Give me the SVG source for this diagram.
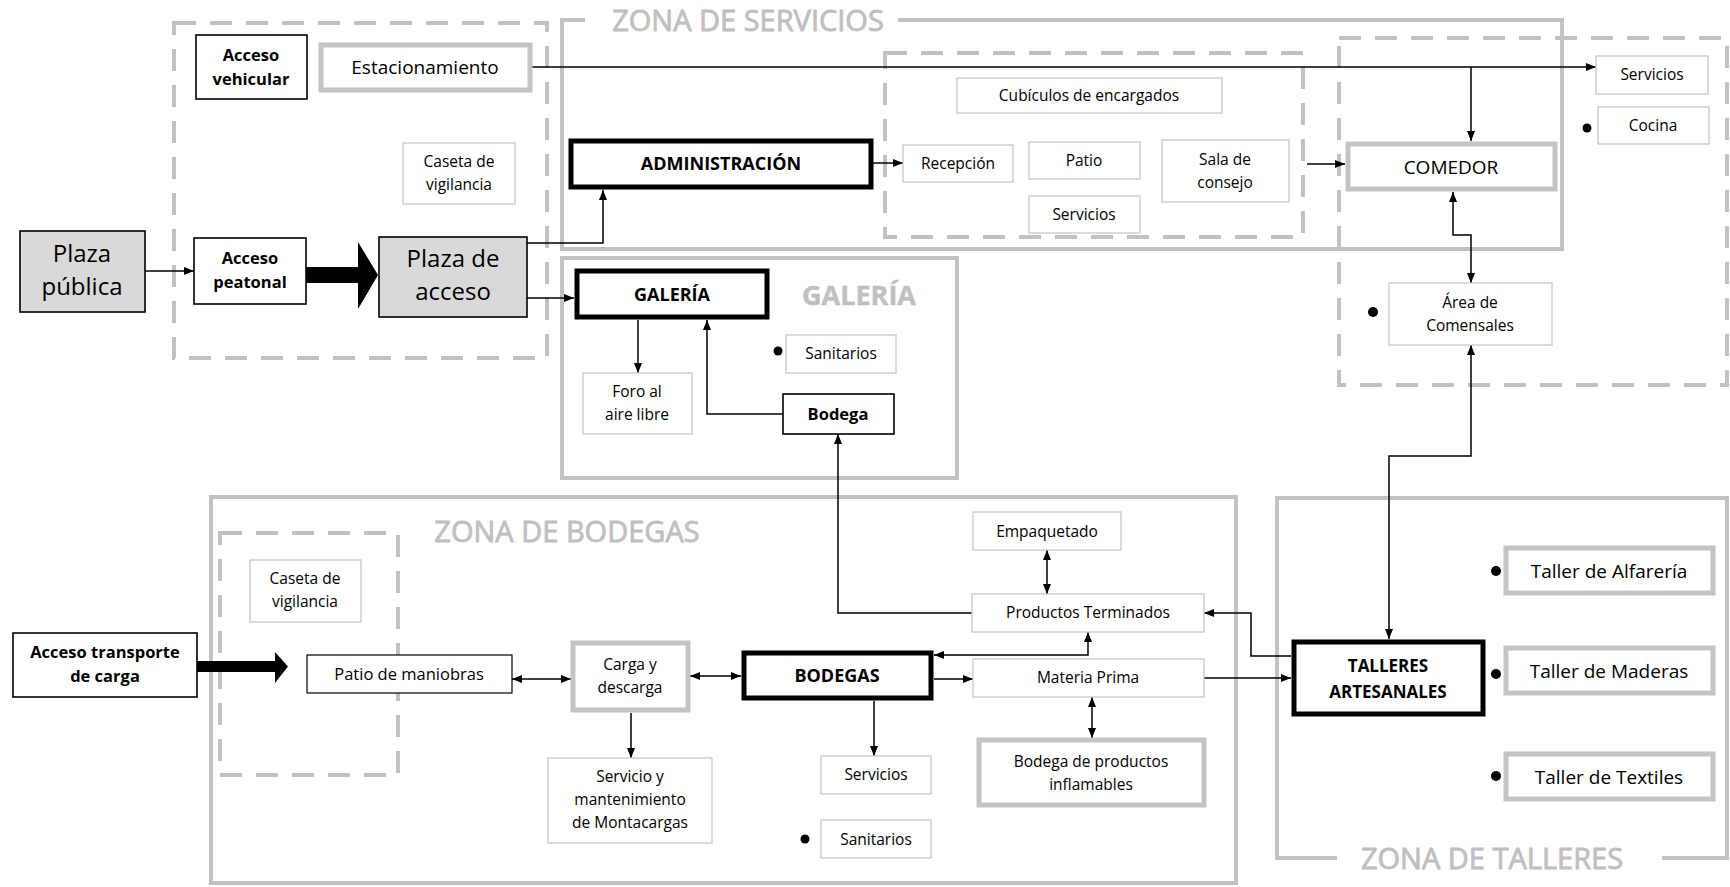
<svg xmlns="http://www.w3.org/2000/svg" width="1730" height="887" viewBox="0 0 1730 887">
<defs>
<marker id="ah" viewBox="0 0 10 10" refX="10" refY="5" markerWidth="10" markerHeight="10" markerUnits="userSpaceOnUse" orient="auto-start-reverse">
<path d="M0,1 L10,5 L0,9 Z" fill="#000"/>
</marker>
<style>
text{font-family:"Open Sans","Liberation Sans",sans-serif;text-anchor:middle;fill:#000}
.thin{fill:#fff;stroke:#c8c8c8;stroke-width:1.3}
.blk{fill:#fff;stroke:#000;stroke-width:1.6}
.thick{fill:#fff;stroke:#000;stroke-width:5}
.gray{fill:#fff;stroke:#c4c4c4;stroke-width:5}
.plaza{fill:#d9d9d9;stroke:#000;stroke-width:1.6}
.zone{fill:none;stroke:#c2c2c2;stroke-width:4}
.dash{fill:none;stroke:#c2c2c2;stroke-width:4;stroke-dasharray:22 14}
.con{fill:none;stroke:#000;stroke-width:1.5}
.arr{marker-end:url(#ah)}
.arr2{marker-start:url(#ah);marker-end:url(#ah)}
.t{font-size:15.5px}
.tb{font-size:16.5px;font-weight:bold}
.tn{font-size:19px}
.tbig{font-size:24px}
.ttl{font-size:29px;fill:#c0c0c0;stroke:#c0c0c0;stroke-width:0.8}
.dot{fill:#000}
</style>
</defs>

<g id="zones">
<rect class="dash" x="174" y="23" width="373" height="335"/>
<path class="zone" d="M585 20 H562 V249 H1562 V20 H898"/>
<text class="ttl" x="748" y="31">ZONA DE SERVICIOS</text>
<rect class="dash" x="885" y="53" width="418" height="184"/>
<rect class="dash" x="1339" y="38" width="388" height="347"/>
<rect class="zone" x="562" y="258" width="395" height="220"/>
<text class="ttl" x="859" y="305" style="font-weight:bold;font-size:27px;stroke-width:0.4">GALERÍA</text>
<rect class="zone" x="211" y="497" width="1025" height="386"/>
<text class="ttl" x="567" y="542">ZONA DE BODEGAS</text>
<rect class="dash" x="220" y="533" width="178" height="242"/>
<path class="zone" d="M1337 858 H1277 V498 H1727 V858 H1662"/>
<text class="ttl" x="1492" y="869">ZONA DE TALLERES</text>
</g>

<g id="connectors">
<path class="con arr" d="M145 271 H194"/>
<polygon points="306,267 358,267 358,242 378,275 358,309 358,283 306,283" fill="#000"/>
<path class="con arr" d="M527 243 H603 V190"/>
<path class="con arr" d="M527 298 H574"/>
<path class="con arr" d="M530 67 H1596"/>
<path class="con arr" d="M1471 67 V141"/>
<path class="con arr" d="M873 163 H903"/>
<path class="con arr" d="M1307 164 H1345"/>
<path class="con arr2" d="M1453 192 V235 H1471 V283"/>
<path class="con arr2" d="M1389 639 V456 H1471 V345"/>
<path class="con arr" d="M638 320 V373"/>
<path class="con arr" d="M783 414 H707 V320"/>
<path class="con arr" d="M972 613 H838 V434"/>
<path class="con arr2" d="M1047 550 V594"/>
<polygon points="197,661 275,661 275,652 288,666.5 275,683 275,672 197,672" fill="#000"/>
<path class="con arr2" d="M512 679 H571"/>
<path class="con arr2" d="M690 676 H741"/>
<path class="con arr" d="M934 679 H973"/>
<path class="con arr2" d="M934 655 H1088 V632"/>
<path class="con arr2" d="M1092 697 V738"/>
<path class="con arr" d="M631 713 V758"/>
<path class="con arr" d="M874 701 V756"/>
<path class="con arr" d="M1291 656 H1251 V613 H1204"/>
<path class="con arr" d="M1204 678 H1291"/>
</g>

<g id="plaza-publica"><rect class="plaza" x="20" y="231" width="125" height="81"/><text class="tbig" x="82" y="262">Plaza</text><text class="tbig" x="82" y="295">pública</text></g>
<g id="acceso-vehicular"><rect class="blk" x="196" y="35" width="111" height="64"/><text class="tb" x="251" y="61">Acceso</text><text class="tb" x="251" y="85">vehicular</text></g>
<g id="estacionamiento"><rect class="gray" x="321" y="45" width="209" height="45"/><text class="tn" x="425" y="74">Estacionamiento</text></g>
<g id="caseta-1"><rect class="thin" x="403" y="143" width="112" height="61"/><text class="t" x="459" y="167">Caseta de</text><text class="t" x="459" y="190">vigilancia</text></g>
<g id="acceso-peatonal"><rect class="blk" x="194" y="238" width="112" height="66"/><text class="tb" x="250" y="264">Acceso</text><text class="tb" x="250" y="288">peatonal</text></g>
<g id="plaza-acceso"><rect class="plaza" x="379" y="237" width="148" height="80"/><text class="tbig" x="453" y="267">Plaza de</text><text class="tbig" x="453" y="300">acceso</text></g>

<g id="administracion"><rect class="thick" x="571" y="141" width="300" height="46"/><text class="tb" x="721" y="170" style="font-size:18px">ADMINISTRACIÓN</text></g>
<g id="cubiculos"><rect class="thin" x="957" y="78" width="265" height="35"/><text class="t" x="1089" y="101">Cubículos de encargados</text></g>
<g id="recepcion"><rect class="thin" x="903" y="145" width="110" height="37"/><text class="t" x="958" y="169">Recepción</text></g>
<g id="patio"><rect class="thin" x="1029" y="142" width="111" height="37"/><text class="t" x="1084" y="166">Patio</text></g>
<g id="servicios-adm"><rect class="thin" x="1029" y="196" width="111" height="37"/><text class="t" x="1084" y="220">Servicios</text></g>
<g id="sala-consejo"><rect class="thin" x="1162" y="140" width="127" height="62"/><text class="t" x="1225" y="165">Sala de</text><text class="t" x="1225" y="188">consejo</text></g>

<g id="comedor"><rect class="gray" x="1348" y="144" width="207" height="45"/><text class="tn" x="1451" y="174">COMEDOR</text></g>
<g id="servicios-com"><rect class="thin" x="1596" y="56" width="112" height="38"/><text class="t" x="1652" y="80">Servicios</text></g>
<g id="cocina"><circle class="dot" cx="1587" cy="128" r="4.5"/><rect class="thin" x="1598" y="107" width="111" height="37"/><text class="t" x="1653" y="131">Cocina</text></g>
<g id="comensales"><circle class="dot" cx="1373" cy="312" r="5"/><rect class="thin" x="1389" y="283" width="163" height="62"/><text class="t" x="1470" y="308">Área de</text><text class="t" x="1470" y="331">Comensales</text></g>

<g id="galeria"><rect class="thick" x="577" y="271" width="190" height="46"/><text class="tb" x="672" y="301" style="font-size:18px">GALERÍA</text></g>
<g id="foro"><rect class="thin" x="583" y="373" width="109" height="61"/><text class="t" x="637" y="397">Foro al</text><text class="t" x="637" y="420">aire libre</text></g>
<g id="sanitarios-gal"><circle class="dot" cx="778" cy="351" r="4.5"/><rect class="thin" x="786" y="335" width="110" height="38"/><text class="t" x="841" y="359">Sanitarios</text></g>
<g id="bodega"><rect class="blk" x="783" y="394" width="111" height="40"/><text class="tb" x="838" y="420">Bodega</text></g>

<g id="acceso-carga"><rect class="blk" x="13" y="633" width="184" height="64"/><text class="tb" x="105" y="658">Acceso transporte</text><text class="tb" x="105" y="682">de carga</text></g>
<g id="caseta-2"><rect class="thin" x="250" y="560" width="111" height="62"/><text class="t" x="305" y="584">Caseta de</text><text class="t" x="305" y="607">vigilancia</text></g>
<g id="patio-maniobras"><rect class="blk" x="307" y="655" width="205" height="38" style="stroke-width:1.2"/><text class="t" x="409" y="680" style="font-size:16.5px">Patio de maniobras</text></g>
<g id="carga-descarga"><rect class="gray" x="573" y="643" width="115" height="67"/><text class="t" x="630" y="670">Carga y</text><text class="t" x="630" y="693">descarga</text></g>
<g id="montacargas"><rect class="thin" x="548" y="758" width="164" height="85"/><text class="t" x="630" y="782">Servicio y</text><text class="t" x="630" y="805">mantenimiento</text><text class="t" x="630" y="828">de Montacargas</text></g>
<g id="bodegas"><rect class="thick" x="744" y="653" width="187" height="45"/><text class="tb" x="837" y="682" style="font-size:18px">BODEGAS</text></g>
<g id="servicios-bod"><rect class="thin" x="821" y="756" width="110" height="38"/><text class="t" x="876" y="780">Servicios</text></g>
<g id="sanitarios-bod"><circle class="dot" cx="805" cy="839" r="4.5"/><rect class="thin" x="821" y="820" width="110" height="38"/><text class="t" x="876" y="845">Sanitarios</text></g>
<g id="empaquetado"><rect class="thin" x="973" y="512" width="148" height="38"/><text class="t" x="1047" y="537">Empaquetado</text></g>
<g id="productos-terminados"><rect class="thin" x="972" y="594" width="232" height="38"/><text class="t" x="1088" y="618">Productos Terminados</text></g>
<g id="materia-prima"><rect class="thin" x="973" y="659" width="231" height="38"/><text class="t" x="1088" y="683">Materia Prima</text></g>
<g id="inflamables"><rect class="gray" x="979" y="740" width="225" height="65"/><text class="t" x="1091" y="767">Bodega de productos</text><text class="t" x="1091" y="790">inflamables</text></g>

<g id="talleres"><rect class="thick" x="1294" y="642" width="189" height="72"/><text class="tb" x="1388" y="672" style="font-size:17px">TALLERES</text><text class="tb" x="1388" y="698" style="font-size:17px">ARTESANALES</text></g>
<g id="alfareria"><circle class="dot" cx="1496" cy="571" r="5"/><rect class="gray" x="1506" y="548" width="207" height="45"/><text class="tn" x="1609" y="578">Taller de Alfarería</text></g>
<g id="maderas"><circle class="dot" cx="1496" cy="674" r="5"/><rect class="gray" x="1506" y="648" width="207" height="45"/><text class="tn" x="1609" y="678">Taller de Maderas</text></g>
<g id="textiles"><circle class="dot" cx="1496" cy="776" r="5"/><rect class="gray" x="1506" y="754" width="207" height="45"/><text class="tn" x="1609" y="784">Taller de Textiles</text></g>
</svg>
